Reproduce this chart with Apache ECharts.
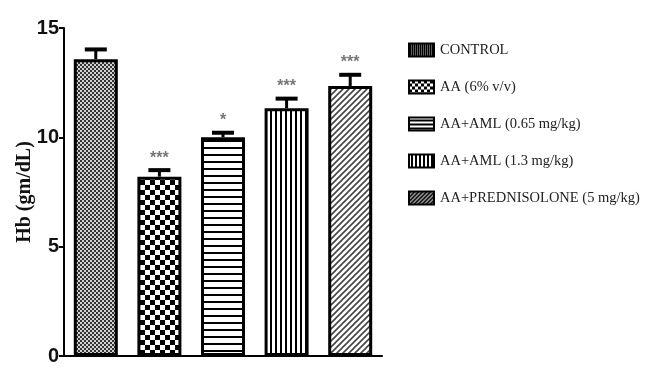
<!DOCTYPE html>
<html>
<head>
<meta charset="utf-8">
<script src="https://cdn.jsdelivr.net/npm/echarts@6/dist/echarts.min.js"></script>
<style>
html,body{margin:0;padding:0;background:#fff;}
#chart{width:658px;height:387px;}
</style>
</head>
<body>
<div id="chart"></div>
<script>
// ---- data ----
var categories = ['CONTROL', 'AA (6% v/v)', 'AA+AML (0.65 mg/kg)', 'AA+AML (1.3 mg/kg)', 'AA+PREDNISOLONE (5 mg/kg)'];
var means = [13.57, 8.2, 10.0, 11.33, 12.35];
var errors = [0.45, 0.3, 0.21, 0.44, 0.51];
var stars = ['', '***', '*', '***', '***'];
var yTicks = [0, 5, 10, 15];

// ---- patterns ----
function makeTile(w, h, draw) {
  var c = document.createElement('canvas');
  c.width = w; c.height = h;
  var g = c.getContext('2d');
  draw(g, w, h);
  return c;
}
var tiles = [
  makeTile(4, 4, function (g) { // fine dotted gray
    g.fillStyle = '#d0d0d0'; g.fillRect(0, 0, 4, 4);
    g.fillStyle = '#333'; g.fillRect(0, 0, 2, 2); g.fillRect(2, 2, 2, 2);
  }),
  makeTile(10, 10, function (g) { // checkerboard
    g.fillStyle = '#fff'; g.fillRect(0, 0, 10, 10);
    g.fillStyle = '#000'; g.fillRect(0, 0, 5, 5); g.fillRect(5, 5, 5, 5);
  }),
  makeTile(7, 7, function (g) { // horizontal lines
    g.fillStyle = '#fff'; g.fillRect(0, 0, 7, 7);
    g.fillStyle = '#000'; g.fillRect(0, 0, 7, 2);
  }),
  makeTile(5, 5, function (g) { // vertical lines
    g.fillStyle = '#fff'; g.fillRect(0, 0, 5, 5);
    g.fillStyle = '#000'; g.fillRect(0, 0, 2, 5);
  }),
  makeTile(6, 6, function (g) { // diagonal lines
    g.fillStyle = '#fff'; g.fillRect(0, 0, 6, 6);
    g.strokeStyle = '#444'; g.lineWidth = 1.6;
    g.beginPath();
    g.moveTo(-1, 7); g.lineTo(7, -1);
    g.moveTo(-4, 4); g.lineTo(4, -4);
    g.moveTo(2, 10); g.lineTo(10, 2);
    g.stroke();
  })
];
var legendTiles = [
  makeTile(4, 2, function (g) { g.fillStyle = '#000'; g.fillRect(0,0,4,2); g.fillStyle = '#bbb'; g.fillRect(0,0,1,1); g.fillRect(2,1,1,1); }),
  makeTile(6, 6, function (g) { g.fillStyle = '#000'; g.fillRect(0,0,6,6); g.fillStyle = '#fff'; g.fillRect(0,0,3,3); g.fillRect(3,3,3,3); }),
  makeTile(4, 4, function (g) { g.fillStyle = '#000'; g.fillRect(0,0,4,4); g.fillStyle = '#fff'; g.fillRect(0,0,4,2); }),
  makeTile(4, 4, function (g) { g.fillStyle = '#000'; g.fillRect(0,0,4,4); g.fillStyle = '#fff'; g.fillRect(0,0,2,4); }),
  makeTile(4, 4, function (g) {
    g.fillStyle = '#000'; g.fillRect(0,0,4,4);
    g.strokeStyle = '#ccc'; g.lineWidth = 1.2; g.beginPath();
    g.moveTo(-1,5); g.lineTo(5,-1); g.moveTo(-3,3); g.lineTo(3,-3); g.moveTo(1,7); g.lineTo(7,1); g.stroke();
  })
];

var series = categories.map(function (name, i) {
  var d = categories.map(function (_, j) { return j === i ? means[j] : null; });
  return {
    name: name,
    type: 'bar',
    data: d,
    barWidth: 44,
    barGap: '-100%',
    itemStyle: {
      color: { image: tiles[i], repeat: 'repeat' },
      borderColor: '#000',
      borderWidth: 3
    },
    z: 2
  };
});

series.push({
  type: 'custom',
  name: 'err',
  z: 3,
  data: means.map(function (m, i) { return [i, m, m + errors[i]]; }),
  renderItem: function (params, api) {
    var i = api.value(0);
    var base = api.coord([i, api.value(1)]);
    var top = api.coord([i, api.value(2)]);
    var half = 11;
    var star = stars[i];
    var children = [
      { type: 'line', shape: { x1: base[0], y1: base[1], x2: top[0], y2: top[1] }, style: { stroke: '#000', lineWidth: 3 } },
      { type: 'line', shape: { x1: top[0] - half, y1: top[1], x2: top[0] + half, y2: top[1] }, style: { stroke: '#000', lineWidth: 4 } }
    ];
    if (star) {
      children.push({ type: 'text', style: { text: star, x: top[0], y: top[1] - 12, align: 'center', verticalAlign: 'middle', fill: '#777', font: 'bold 16px "Liberation Sans"' } });
    }
    return { type: 'group', children: children };
  }
});

var chart = echarts.init(document.getElementById('chart'), null, { renderer: 'canvas' });
chart.setOption({
  backgroundColor: '#fff',
  animation: false,
  grid: { left: 64, right: 276, top: 28, bottom: 31, containLabel: false },
  legend: {
    orient: 'vertical',
    left: 403,
    top: 35,
    itemWidth: 25,
    itemHeight: 13,
    itemGap: 17,
    icon: 'rect',
    data: categories.map(function (n, i) {
      return { name: n, itemStyle: { color: { image: legendTiles[i], repeat: 'repeat' }, borderColor: '#000', borderWidth: 2 } };
    }),
    textStyle: { fontFamily: 'Liberation Serif', fontSize: 14.5, color: '#222', lineHeight: 20, padding: [0, 0, 0, 1] }
  },
  xAxis: {
    type: 'category',
    data: categories,
    axisLine: { lineStyle: { color: '#000', width: 2 } },
    axisTick: { alignWithLabel: true, length: 10, lineStyle: { color: '#000', width: 2 } },
    axisLabel: { show: false },
    splitLine: { show: false }
  },
  yAxis: {
    type: 'value',
    min: yTicks[0],
    max: yTicks[yTicks.length - 1],
    interval: 5,
    name: 'Hb (gm/dL)',
    nameLocation: 'middle',
    nameGap: 29,
    nameMoveOverlap: false,
    nameTextStyle: { fontFamily: 'Liberation Serif', fontWeight: 'bold', fontSize: 20, color: '#111' },
    axisLine: { show: true, lineStyle: { color: '#000', width: 2 } },
    axisTick: { show: true, length: 5, lineStyle: { color: '#000', width: 2 } },
    axisLabel: { fontFamily: '"Liberation Sans"', fontWeight: 'bold', fontSize: 20, color: '#111', margin: 5 },
    splitLine: { show: false }
  },
  series: series
});
</script>
</body>
</html>
